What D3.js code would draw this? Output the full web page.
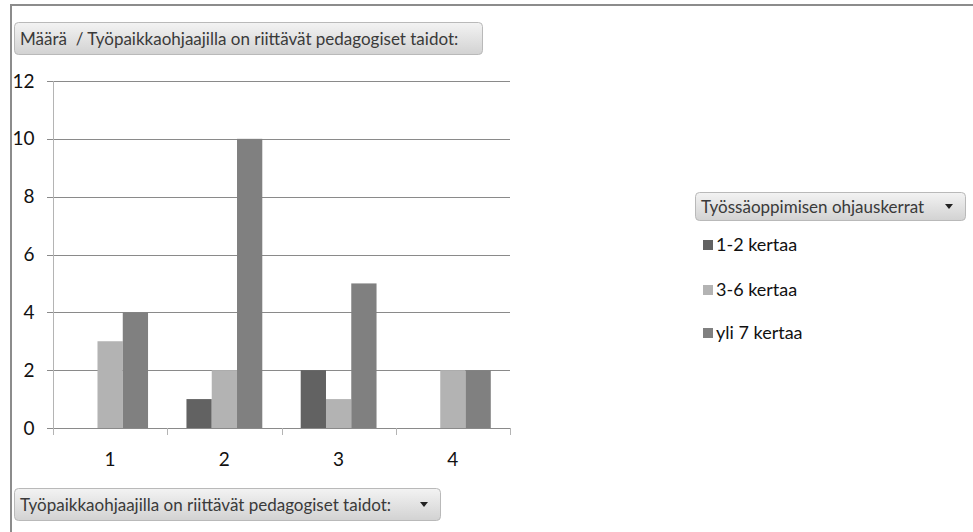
<!DOCTYPE html>
<html>
<head>
<meta charset="utf-8">
<script src="https://cdn.jsdelivr.net/npm/d3@7"></script>
<style>
  html, body { margin: 0; padding: 0; background: #fff; }
  svg { display: block; font-family: Lato, "Noto Sans", sans-serif; }
  svg text { white-space: pre; }
</style>
</head>
<body>
<svg id="chart" width="973" height="532"></svg>
<script>
// Answers per rating (1–4), split by number of guidance sessions
const categories = ["1", "2", "3", "4"];
const seriesNames = ["1-2 kertaa", "3-6 kertaa", "yli 7 kertaa"];
const series1to2 = [0, 1, 2, 0];
const series3to6 = [3, 2, 1, 2];
const seriesOver7 = [4, 10, 5, 2];
const yTicks = [0, 2, 4, 6, 8, 10, 12];
const seriesColors = ["#626262", "#b3b3b3", "#808080"];

const titleText = "Määrä  / Työpaikkaohjaajilla on riittävät pedagogiset taidot:";
const legendTitle = "Työssäoppimisen ohjauskerrat";
const axisFieldText = "Työpaikkaohjaajilla on riittävät pedagogiset taidot:";

const seriesValues = [series1to2, series3to6, seriesOver7];
const rows = categories.map((c, i) => ({
  cat: c,
  values: seriesNames.map((s, j) => ({ name: s, value: seriesValues[j][i], color: seriesColors[j] }))
}));

const svg = d3.select("#chart");

// button gradient
const defs = svg.append("defs");
const grad = defs.append("linearGradient").attr("id", "btn").attr("x1", 0).attr("y1", 0).attr("x2", 0).attr("y2", 1);
grad.append("stop").attr("offset", "0%").attr("stop-color", "#f3f3f3");
grad.append("stop").attr("offset", "100%").attr("stop-color", "#d2d2d2");

// outer frame (top and left edges)
svg.append("line").attr("x1", 11).attr("x2", 973).attr("y1", 5).attr("y2", 5)
  .attr("stroke", "#8c8c8c").attr("stroke-width", 2);
svg.append("line").attr("x1", 11).attr("x2", 11).attr("y1", 4).attr("y2", 532)
  .attr("stroke", "#8c8c8c").attr("stroke-width", 2);

const plot = { left: 53, right: 510, top: 81, bottom: 428 };

const x = d3.scaleBand().domain(categories).range([plot.left, plot.right]).paddingInner(0).paddingOuter(0);
const xs = d3.scaleBand().domain(seriesNames).range([0, x.bandwidth()]).paddingInner(0).paddingOuter(0.76);
const y = d3.scaleLinear().domain([0, 12]).range([plot.bottom, plot.top]);

// horizontal gridlines
svg.append("g")
  .selectAll("line").data(yTicks).join("line")
  .attr("x1", plot.left - 6).attr("x2", plot.right)
  .attr("y1", d => Math.round(y(d)) + 0.5).attr("y2", d => Math.round(y(d)) + 0.5)
  .attr("stroke", "#8a8a8a").attr("stroke-width", 1);

// y axis
const yAxis = svg.append("g").attr("transform", `translate(${plot.left + 0.5},0)`)
  .call(d3.axisLeft(y).tickValues(yTicks).tickSize(0).tickPadding(19));
yAxis.select(".domain").attr("stroke", "#b4b4b4").attr("d", `M0,${plot.top}V${plot.bottom + 7}`);
yAxis.selectAll("text").attr("font-size", 19).attr("fill", "#111")
  .attr("font-family", "Lato, Noto Sans, sans-serif");

// x axis (ticks between categories)
const xAxis = svg.append("g").attr("transform", `translate(0,${Math.round(plot.bottom) + 0.5})`)
  .call(d3.axisBottom(x).tickSize(0).tickPadding(24));
xAxis.select(".domain").remove();
xAxis.selectAll("text").attr("font-size", 19).attr("fill", "#111")
  .attr("font-family", "Lato, Noto Sans, sans-serif");
svg.append("g").selectAll("line").data(categories).join("line")
  .attr("x1", d => Math.round(x(d) + x.bandwidth()) + 0.5)
  .attr("x2", d => Math.round(x(d) + x.bandwidth()) + 0.5)
  .attr("y1", plot.bottom).attr("y2", plot.bottom + 7)
  .attr("stroke", "#b4b4b4");

// bars
svg.append("g").selectAll("g").data(rows).join("g")
  .attr("transform", d => `translate(${x(d.cat)},0)`)
  .selectAll("rect").data(d => d.values.filter(v => v.value > 0)).join("rect")
  .attr("x", d => xs(d.name))
  .attr("width", xs.bandwidth())
  .attr("y", d => y(d.value))
  .attr("height", d => y(0) - y(d.value))
  .attr("fill", d => d.color);

// field buttons
function fieldButton(bx, by, bw, bh, label, dropdown, fontSize) {
  const g = svg.append("g").attr("transform", `translate(${bx},${by})`);
  g.append("rect").attr("x", 0.5).attr("y", 0.5).attr("width", bw).attr("height", bh)
    .attr("rx", 4).attr("fill", "url(#btn)").attr("stroke", "#b9b9b9");
  g.append("text").attr("x", 6).attr("y", bh / 2 + 1).attr("dy", "0.35em")
    .attr("font-size", fontSize).attr("fill", "#3a3a3a").text(label);
  if (dropdown) {
    const cx = bw - 16, cy = bh / 2;
    g.append("path").attr("d", `M${cx - 4},${cy - 2}L${cx + 4},${cy - 2}L${cx},${cy + 3}Z`).attr("fill", "#222");
  }
}
fieldButton(14, 22, 468, 32, titleText, false, 17);
fieldButton(14, 488, 426, 32, axisFieldText, true, 17);
fieldButton(695, 192, 270, 28, legendTitle, true, 17);

// legend
const legend = svg.append("g").attr("transform", "translate(703,0)");
const legendY = [245, 290, 333];
const li = legend.selectAll("g").data(seriesNames).join("g")
  .attr("transform", (d, i) => `translate(0,${legendY[i]})`);
li.append("rect").attr("x", 0).attr("y", -5).attr("width", 10).attr("height", 10)
  .attr("fill", (d, i) => seriesColors[i]);
li.append("text").attr("x", 13).attr("y", 0).attr("dy", "0.35em")
  .attr("font-size", 18).attr("fill", "#111").text(d => d);
</script>
</body>
</html>
